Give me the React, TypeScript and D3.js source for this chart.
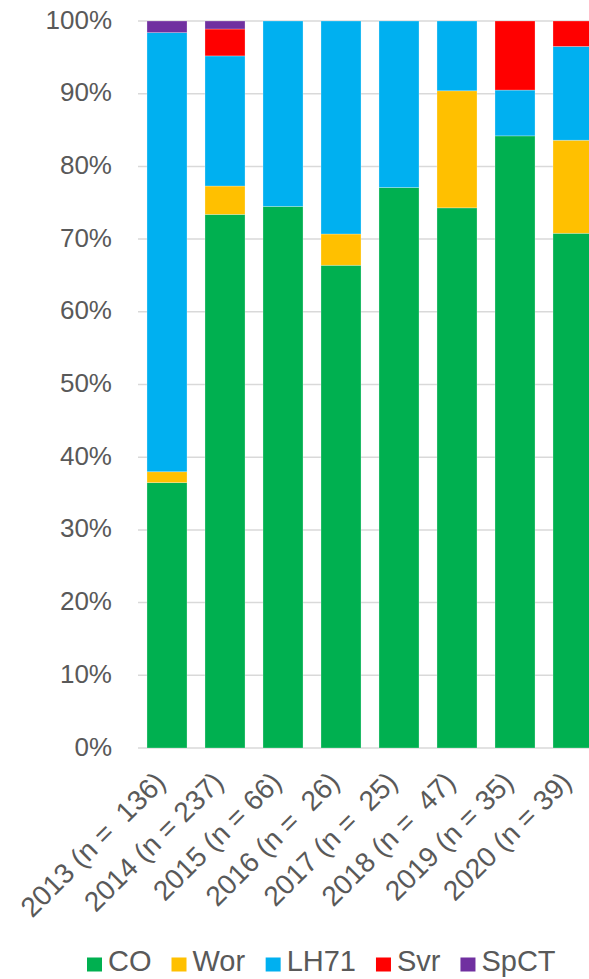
import React from "react";
import * as d3 from "d3";

const categories = [
  "2013 (n =  136)",
  "2014 (n = 237)",
  "2015 (n = 66)",
  "2016 (n =  26)",
  "2017 (n =  25)",
  "2018 (n =  47)",
  "2019 (n = 35)",
  "2020 (n = 39)",
];
const seriesNames = ["CO", "Wor", "LH71", "Svr", "SpCT"];
const CO = [36.5, 73.4, 74.5, 66.4, 77.1, 74.3, 84.2, 70.8];
const Wor = [1.5, 3.9, 0, 4.3, 0, 16.1, 0, 12.8];
const LH71 = [60.4, 17.9, 25.5, 29.3, 22.9, 9.6, 6.3, 12.9];
const Svr = [0, 3.7, 0, 0, 0, 0, 9.5, 3.5];
const SpCT = [1.6, 1.1, 0, 0, 0, 0, 0, 0];
const colors = ["#00B050", "#FFC000", "#00B0F0", "#FF0000", "#7030A0"];
const yTicks = [0, 10, 20, 30, 40, 50, 60, 70, 80, 90, 100];

const W = 589;
const H = 979;
const TEXT = "#595959";
const FONT = "'Liberation Sans', Arial, Helvetica, sans-serif";

export default function App() {
  const values = [CO, Wor, LH71, Svr, SpCT];
  const rows = categories.map((c, i) => {
    const r: any = { cat: c };
    seriesNames.forEach((s, k) => (r[s] = values[k][i]));
    return r;
  });
  const stacked = d3.stack().keys(seriesNames)(rows);

  const x = d3
    .scaleBand<string>()
    .domain(categories)
    .range([138, 602])
    .paddingInner(0.31)
    .paddingOuter(0.155);
  const y = d3.scaleLinear().domain([0, 100]).range([748, 21]);

  // legend layout
  const legendFont = 29;
  const approxWidth = (t: string) => {
    const w: Record<string, number> = {
      C: 0.722, O: 0.778, W: 0.944, o: 0.556, r: 0.333, L: 0.556, H: 0.722,
      "7": 0.556, "1": 0.556, S: 0.667, v: 0.5, p: 0.556, T: 0.611,
    };
    return t.split("").reduce((a, ch) => a + (w[ch] ?? 0.556), 0) * legendFont;
  };
  let lx = 87;
  const legendItems = seriesNames.map((s, k) => {
    const item = { s, k, x: lx };
    lx += 15 + 6 + approxWidth(s) + 20;
    return item;
  });

  return (
    <svg
      width={W}
      height={H}
      style={{ position: "absolute", left: 0, top: 0, display: "block", background: "#fff" }}
      fontFamily={FONT}
    >
      {/* gridlines */}
      {yTicks.map((t) => (
        <line
          key={t}
          x1={138}
          x2={W}
          y1={y(t)}
          y2={y(t)}
          stroke="#D9D9D9"
          strokeWidth={1.5}
        />
      ))}
      {/* y labels */}
      {yTicks.map((t) => (
        <text
          key={t}
          x={112}
          y={y(t) + 7.5}
          textAnchor="end"
          fontSize={26}
          fill={TEXT}
        >
          {t + "%"}
        </text>
      ))}
      {/* bars */}
      {stacked.map((layer, k) => (
        <g key={layer.key} fill={colors[k]}>
          {layer.map((d, i) =>
            d[1] - d[0] > 0 ? (
              <rect
                key={i}
                x={x(categories[i])}
                width={x.bandwidth()}
                y={y(d[1])}
                height={y(d[0]) - y(d[1])}
                stroke="#ffffff"
                strokeOpacity={0.35}
                strokeWidth={0.75}
              />
            ) : null
          )}
        </g>
      ))}
      {/* x labels */}
      {categories.map((c) => {
        const cx = (x(c) as number) + x.bandwidth() / 2;
        const cy = 784;
        return (
          <text
            key={c}
            transform={`translate(${cx},${cy}) rotate(-45)`}
            textAnchor="end"
            fontSize={28}
            fill={TEXT}
            style={{ whiteSpace: "pre" }}
          >
            {c}
          </text>
        );
      })}
      {/* legend */}
      {legendItems.map((it) => (
        <g key={it.s}>
          <rect x={it.x} y={957.5} width={15} height={14} fill={colors[it.k]} />
          <text x={it.x + 21} y={971} fontSize={legendFont} fill={TEXT}>
            {it.s}
          </text>
        </g>
      ))}
    </svg>
  );
}
